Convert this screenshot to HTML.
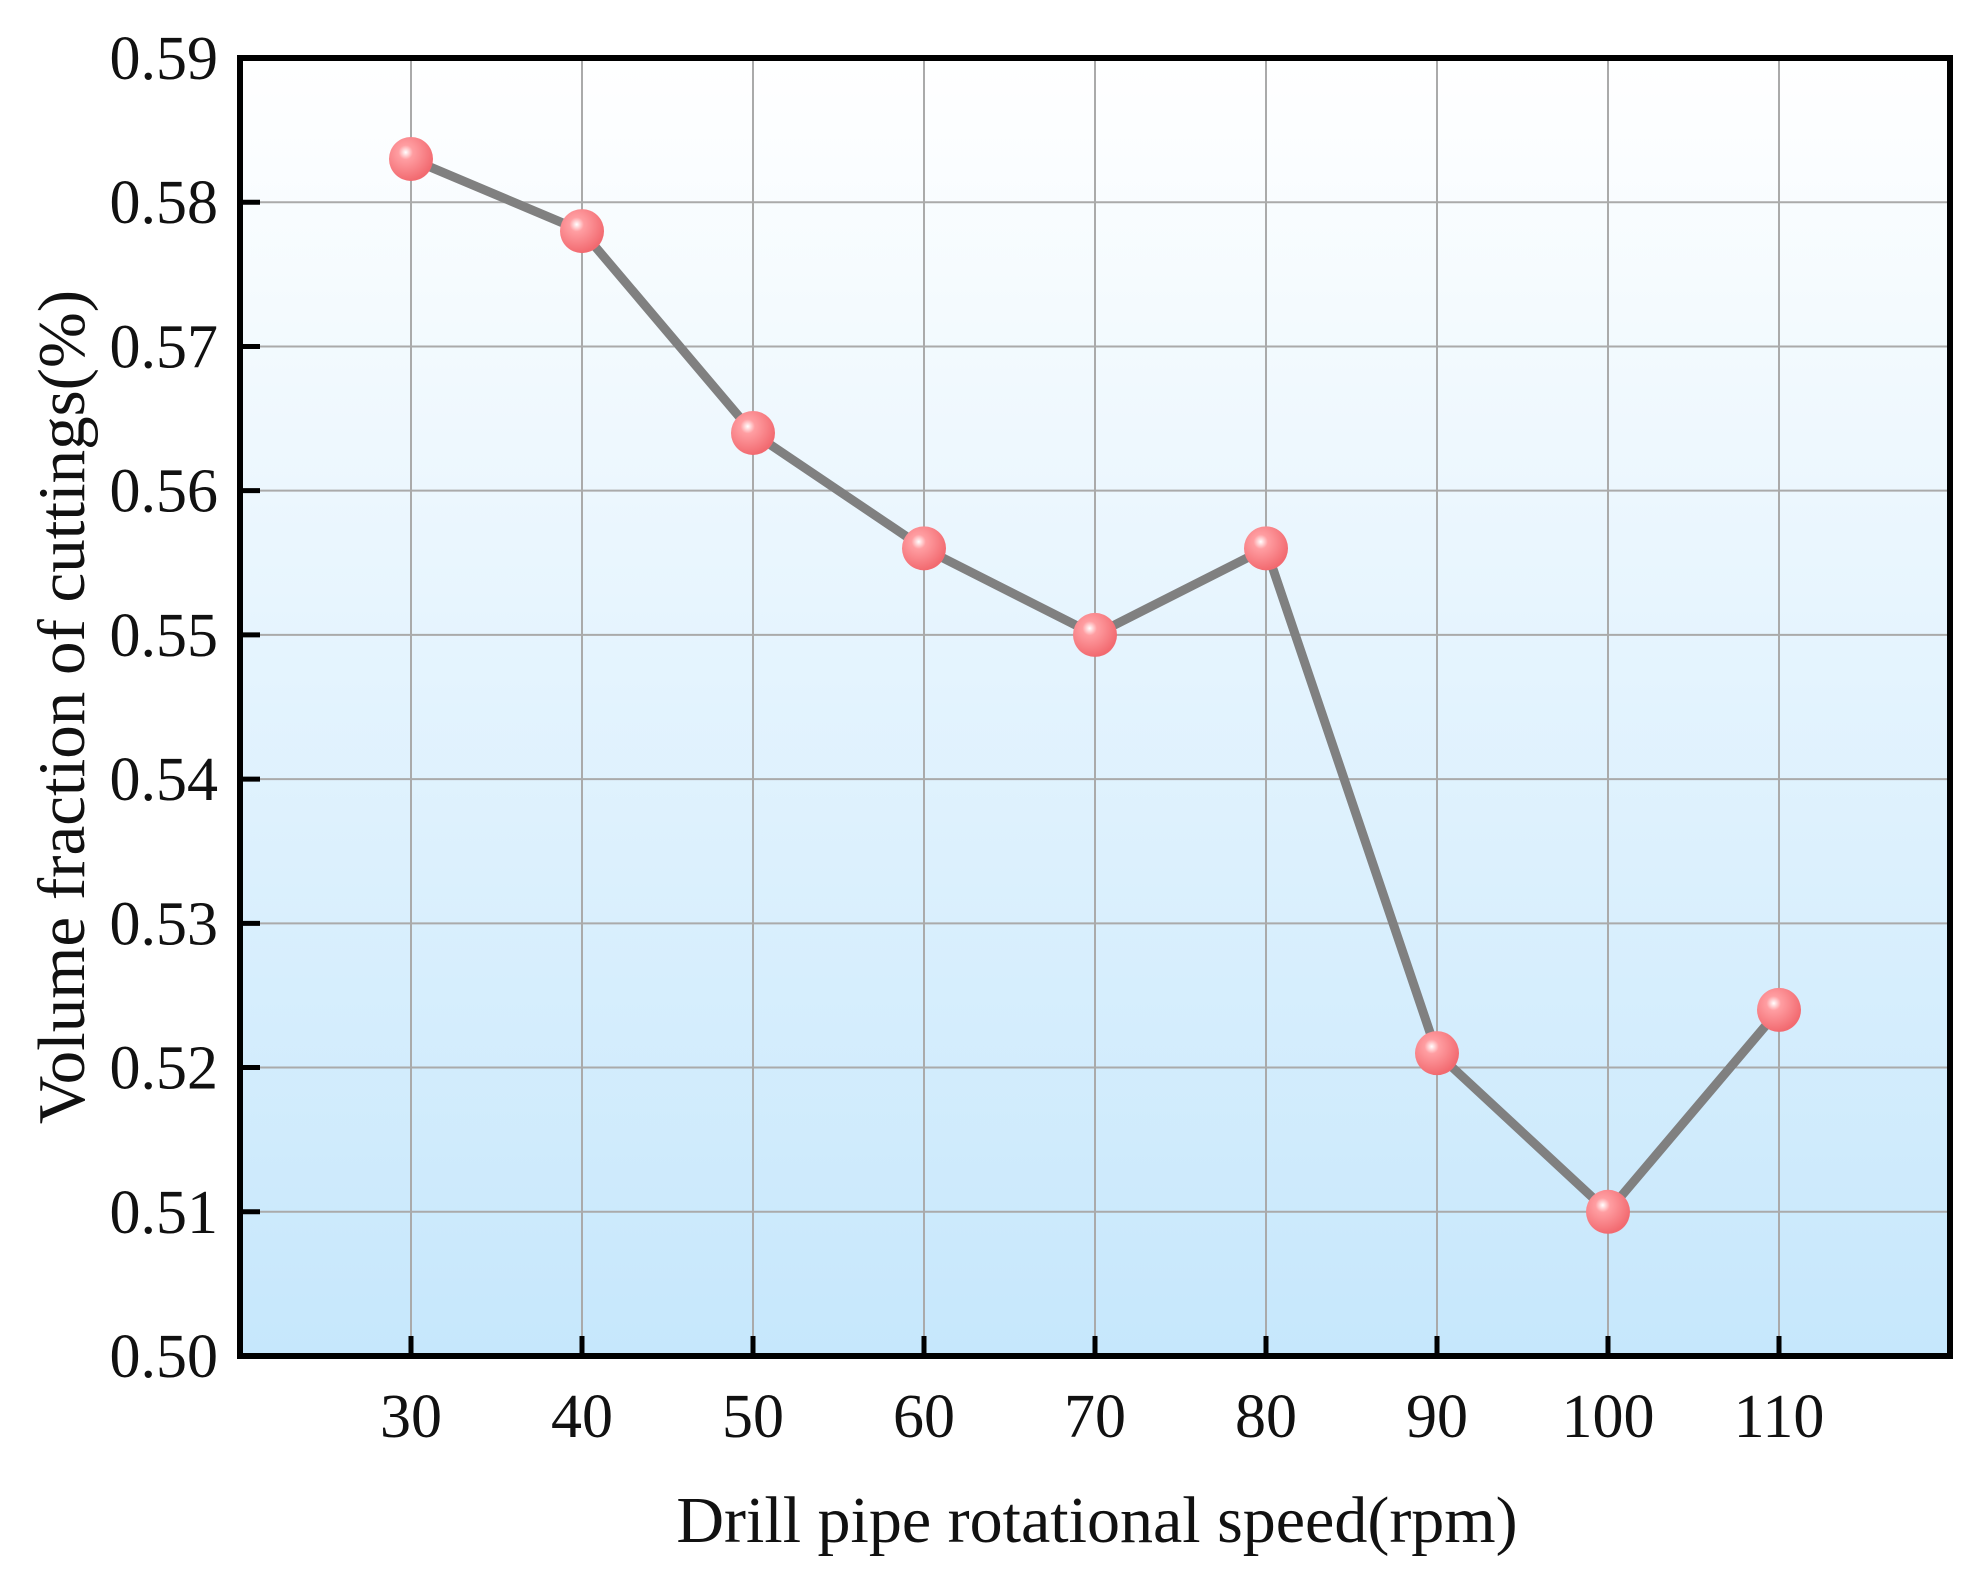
<!DOCTYPE html>
<html><head><meta charset="utf-8"><style>
body{margin:0;background:#fff}
svg text{font-family:"Liberation Serif",serif;fill:#111}
</style></head><body>
<svg id="chart" width="1983" height="1583" xmlns="http://www.w3.org/2000/svg">
<defs>
<linearGradient id="bg" x1="0" y1="0" x2="0" y2="1"><stop offset="0" stop-color="#ffffff"/><stop offset="1" stop-color="#c6e7fc"/></linearGradient>
<radialGradient id="ball" cx="0.38" cy="0.35" r="0.65"><stop offset="0" stop-color="#ffffff"/><stop offset="0.25" stop-color="#ff9ea2"/><stop offset="1" stop-color="#f26a70"/></radialGradient>
</defs>
<rect x="240" y="58" width="1710" height="1298" fill="url(#bg)"/>
<g id="grid"></g><g id="series"></g><g id="axes"></g>
<rect x="240" y="58" width="1710" height="1298" fill="none" stroke="#000" stroke-width="6"/>
<text x="1097" y="1542" font-size="66" text-anchor="middle">Drill pipe rotational speed(rpm)</text>
<text transform="translate(84,707) rotate(-90)" font-size="67" text-anchor="middle">Volume fraction of cuttings(%)</text>
</svg>
<script>
const categories=[30,40,50,60,70,80,90,100,110];
const values=[0.583,0.578,0.564,0.556,0.550,0.556,0.521,0.510,0.524];
const yTicks=[0.50,0.51,0.52,0.53,0.54,0.55,0.56,0.57,0.58,0.59];
const NS="http://www.w3.org/2000/svg";
const L=240,R=1950,T=58,B=1356;
function xs(v){return 411+(v-30)*17.1;}
function ys(v){return B-(v-0.50)/0.09*(B-T);}
function mk(tag,attrs,parent){const e=document.createElementNS(NS,tag);for(const k in attrs)e.setAttribute(k,attrs[k]);parent.appendChild(e);return e;}
const grid=document.getElementById('grid'),axes=document.getElementById('axes'),ser=document.getElementById('series');
yTicks.forEach(t=>{const y=ys(t);
 if(t>0.5&&t<0.59){const g=mk('line',{x1:L,x2:R,y1:y,y2:y,stroke:'#aaa','stroke-width':2},grid);
 
 
 const tk=mk('line',{x1:L,x2:L+20,y1:y,y2:y,stroke:'#000','stroke-width':5},axes);
 
 }
 const tx=mk('text',{x:218,y:y+21,'font-size':62,'text-anchor':'end'},axes);tx.textContent=t.toFixed(2);
 
 
});
categories.forEach(c=>{const x=xs(c);
 const g=mk('line',{x1:x,x2:x,y1:T,y2:B,stroke:'#aaa','stroke-width':2},grid);
 
 
 const tk=mk('line',{x1:x,x2:x,y1:B,y2:B-20,stroke:'#000','stroke-width':5},axes);
 
 
 const tx=mk('text',{x:x,y:1437,'font-size':62,'text-anchor':'middle'},axes);tx.textContent=c;
 
 
});
const pl=mk('polyline',{points:categories.map((c,i)=>xs(c)+','+ys(values[i])).join(' '),fill:'none',stroke:'#808080','stroke-width':9,'stroke-linejoin':'round'},ser);


categories.forEach((c,i)=>{const p=mk('circle',{cx:xs(c),cy:ys(values[i]),r:22,fill:'url(#ball)'},ser);
 
 
});
</script>
</body></html>
